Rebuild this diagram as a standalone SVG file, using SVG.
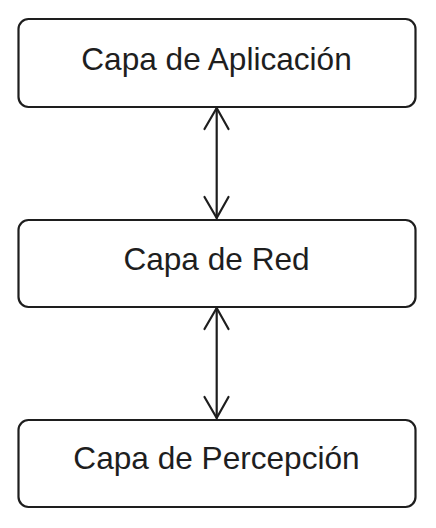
<svg xmlns="http://www.w3.org/2000/svg" width="436" height="528" viewBox="0 0 436 528">
<style>
.box{fill:#ffffff;stroke:#1e1e1e;stroke-width:2.2;}
.lbl{font-family:"Liberation Sans",Arial,sans-serif;font-size:31.6px;fill:#1e1e1e;text-anchor:middle;}
.con{stroke:#1e1e1e;stroke-width:2.2;fill:none;stroke-linecap:round;stroke-linejoin:round;}
</style>
<rect width="436" height="528" fill="#ffffff"/>
<g id="app">
<rect class="box" x="18.5" y="19" width="397" height="88" rx="10"/>
<text class="lbl" x="216.5" y="70">Capa de Aplicación</text>
</g>
<g id="red">
<rect class="box" x="18.5" y="220" width="397" height="87" rx="10"/>
<text class="lbl" x="216.5" y="270">Capa de Red</text>
</g>
<g id="percepcion">
<rect class="box" x="18.5" y="420" width="397" height="87" rx="10"/>
<text class="lbl" x="216.5" y="469">Capa de Percepción</text>
</g>
<g id="connectors">
<path class="con" d="M216.7 108 L216.7 218"/>
<path class="con" d="M204.5 129 L216.7 108 L228.5 129"/>
<path class="con" d="M204.5 197 L216.7 218 L228.5 197"/>
<path class="con" d="M216.7 308 L216.7 418"/>
<path class="con" d="M204.5 329 L216.7 308 L228.5 329"/>
<path class="con" d="M204.5 397 L216.7 418 L228.5 397"/>
</g>
</svg>
